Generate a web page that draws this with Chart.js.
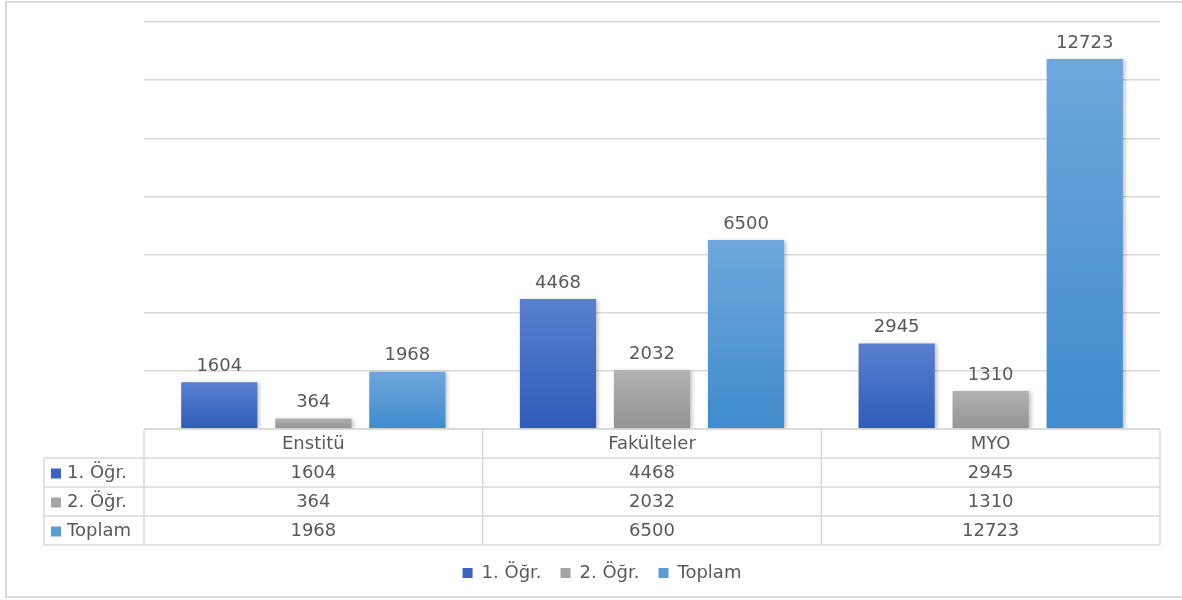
<!DOCTYPE html>
<html lang="tr">
<head>
    <meta charset="UTF-8">
    <title>Öğrenci Sayıları</title>
    <script src="https://cdn.jsdelivr.net/npm/chart.js"></script>
    <style>
        html, body { margin: 0; padding: 0; background: #fff; }
        #wrap { position: relative; width: 1182px; height: 600px; overflow: hidden; }
        #frame { position: absolute; left: 5px; top: 1px; width: 1185px; height: 597px; border: 2px solid #d9d9d9; box-sizing: border-box; }
        canvas { position: absolute; left: 0; top: 0; }
    </style>
</head>
<body>
    <div id="wrap">
        <div id="frame"></div>
        <canvas id="myChart" width="1182" height="600"></canvas>
    </div>

    <script>
        const categories = ['Enstitü', 'Fakülteler', 'MYO'];
        const seriesNames = ['1. Öğr.', '2. Öğr.', 'Toplam'];
        const ogr1 = [1604, 4468, 2945];
        const ogr2 = [364, 2032, 1310];
        const toplam = [1968, 6500, 12723];
        const yTicks = [0, 2000, 4000, 6000, 8000, 10000, 12000, 14000];

        const FONT = 'DejaVu Sans';
        const TEXT = '#595959';
        const LINE = '#d9d9d9';

        // couleurs : [haut, bas, légende]
        const palette = [
            ['#5a7fd0', '#2e5cb8', '#3a63c2'],
            ['#b2b2b2', '#939393', '#a5a5a5'],
            ['#6ea7dd', '#3f8bcc', '#5b9bd5']
        ];

        function barGradient(i) {
            return function (ctx) {
                const chart = ctx.chart;
                if (!chart.chartArea || ctx.type !== 'data') return palette[i][2];
                const y = chart.scales.y;
                const top = y.getPixelForValue(ctx.parsed.y);
                const bottom = y.getPixelForValue(0);
                const g = chart.ctx.createLinearGradient(0, top, 0, bottom);
                g.addColorStop(0, palette[i][0]);
                g.addColorStop(1, palette[i][1]);
                return g;
            };
        }

        const barShadow = {
            id: 'barShadow',
            beforeDatasetsDraw(chart) {
                const c = chart.ctx;
                c.save();
                c.shadowColor = 'rgba(0,0,0,0.25)';
                c.shadowBlur = 4;
                c.shadowOffsetX = 2;
                c.shadowOffsetY = 1;
            },
            afterDatasetsDraw(chart) {
                chart.ctx.restore();
            }
        };

        const valueLabels = {
            id: 'valueLabels',
            afterDatasetsDraw(chart) {
                const c = chart.ctx;
                c.save();
                c.font = '18px "' + FONT + '"';
                c.fillStyle = TEXT;
                c.textAlign = 'center';
                c.textBaseline = 'bottom';
                chart.data.datasets.forEach((ds, i) => {
                    chart.getDatasetMeta(i).data.forEach((bar, j) => {
                        c.fillText(String(ds.data[j]), bar.x, bar.y - 7);
                    });
                });
                c.restore();
            }
        };

        const dataTable = {
            id: 'dataTable',
            afterDraw(chart) {
                const c = chart.ctx;
                const area = chart.chartArea;
                const x = chart.scales.x;
                const rowH = 29;
                const top = area.bottom;
                const labelLeft = area.left - 100;
                const half = (area.right - area.left) / categories.length / 2;
                c.save();
                c.strokeStyle = LINE;
                c.lineWidth = 1.5;
                c.beginPath();
                // lignes horizontales
                c.moveTo(area.left, top); c.lineTo(area.right, top);
                for (let r = 1; r <= 4; r++) {
                    c.moveTo(labelLeft, top + r * rowH); c.lineTo(area.right, top + r * rowH);
                }
                // lignes verticales
                c.moveTo(labelLeft, top + rowH); c.lineTo(labelLeft, top + 4 * rowH);
                for (let i = 0; i <= categories.length; i++) {
                    const px = area.left + i * half * 2;
                    c.moveTo(px, top); c.lineTo(px, top + 4 * rowH);
                }
                c.stroke();

                c.font = '18px "' + FONT + '"';
                c.fillStyle = TEXT;
                c.textBaseline = 'middle';
                c.textAlign = 'center';
                categories.forEach((cat, j) => {
                    c.fillText(cat, x.getPixelForValue(j), top + rowH / 2 + 1);
                });
                chart.data.datasets.forEach((ds, i) => {
                    const cy = top + (i + 1) * rowH + rowH / 2 + 1;
                    ds.data.forEach((v, j) => {
                        c.textAlign = 'center';
                        c.fillText(String(v), x.getPixelForValue(j), cy);
                    });
                    c.fillStyle = palette[i][2];
                    c.fillRect(labelLeft + 7, cy - 5, 10, 10);
                    c.fillStyle = TEXT;
                    c.textAlign = 'left';
                    c.fillText(ds.label, labelLeft + 23, cy);
                });
                c.restore();
            }
        };

        const ctx = document.getElementById('myChart').getContext('2d');
        const myChart = new Chart(ctx, {
            type: 'bar',
            data: {
                labels: categories,
                datasets: [
                    { label: seriesNames[0], data: ogr1, backgroundColor: barGradient(0) },
                    { label: seriesNames[1], data: ogr2, backgroundColor: barGradient(1) },
                    { label: seriesNames[2], data: toplam, backgroundColor: barGradient(2) }
                ]
            },
            options: {
                responsive: false,
                animation: false,
                devicePixelRatio: 1,
                categoryPercentage: 0.833,
                barPercentage: 0.81,
                layout: { padding: { left: 44, right: 22, top: 22, bottom: 8 } },
                scales: {
                    x: {
                        ticks: { display: false },
                        grid: { display: false },
                        border: { display: false },
                        afterFit(scale) { scale.height = 116; }
                    },
                    y: {
                        min: yTicks[0],
                        max: yTicks[yTicks.length - 1],
                        afterBuildTicks(scale) { scale.ticks = yTicks.map(v => ({ value: v })); },
                        ticks: { display: false },
                        grid: { color: LINE, lineWidth: 1.5, drawTicks: false },
                        border: { display: false },
                        afterFit(scale) { scale.width = 100; }
                    }
                },
                plugins: {
                    tooltip: { enabled: false },
                    legend: {
                        position: 'bottom',
                        labels: {
                            font: { family: FONT, size: 18 },
                            color: TEXT,
                            boxWidth: 10,
                            boxHeight: 10,
                            padding: 19,
                            generateLabels(chart) {
                                return chart.data.datasets.map((ds, i) => ({
                                    text: ds.label,
                                    fillStyle: palette[i][2],
                                    strokeStyle: palette[i][2],
                                    lineWidth: 0,
                                    fontColor: TEXT,
                                    datasetIndex: i
                                }));
                            }
                        }
                    }
                }
            },
            plugins: [barShadow, valueLabels, dataTable]
        });
    </script>
</body>
</html>
